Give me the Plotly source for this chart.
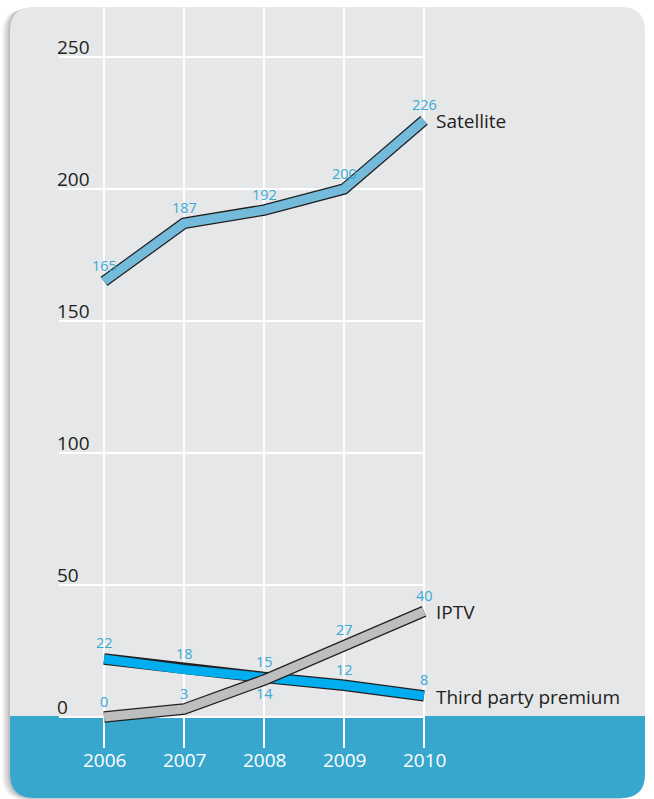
import plotly.graph_objects as go

years = [2006, 2007, 2008, 2009, 2010]
satellite = [165, 187, 192, 200, 226]
iptv = [0, 3, 14, 27, 40]
third_party = [22, 18, 15, 12, 8]
y_ticks = [0, 50, 100, 150, 200, 250]
series_names = ["Satellite", "IPTV", "Third party premium"]

W, H = 654, 799
# pixel mapping used to set axis ranges (layout only)
PX_PER_YEAR = 80.0
X0_PX = 104.0
PX_PER_UNIT = 2.64
Y0_PX = 717.0

x_range = [years[0] - X0_PX / PX_PER_YEAR, years[0] + (W - X0_PX) / PX_PER_YEAR]
y_range = [-(H - Y0_PX) / PX_PER_UNIT, Y0_PX / PX_PER_UNIT]

def px_to_x(px):
    return years[0] + (px - X0_PX) / PX_PER_YEAR

def py_to_y(py):
    return (Y0_PX - py) / PX_PER_UNIT

def rounded_path(x0, y0, x1, y1, rt, rb):
    def P(x, y):
        return f"{x / W:.5f},{1 - y / H:.5f}"
    d = f"M {P(x0 + rt, y0)} L {P(x1 - rt, y0)} "
    if rt:
        d += f"Q {P(x1, y0)} {P(x1, y0 + rt)} "
    d += f"L {P(x1, y1 - rb)} "
    if rb:
        d += f"Q {P(x1, y1)} {P(x1 - rb, y1)} "
    d += f"L {P(x0 + rb, y1)} "
    if rb:
        d += f"Q {P(x0, y1)} {P(x0, y1 - rb)} "
    d += f"L {P(x0, y0 + rt)} "
    if rt:
        d += f"Q {P(x0, y0)} {P(x0 + rt, y0)} "
    d += "Z"
    return d

PANEL_GREY = "#e6e7e8"
BAND_BLUE = "#37a7cd"
LABEL_BLUE = "#3aaad6"
OUTLINE = "#231f20"
TEXT_DARK = "#231f20"
FONT = "Open Sans"

shapes = []
# shadow layers
for i, a in enumerate([0.05, 0.06, 0.07, 0.09]):
    off = 8 - i * 2
    shapes.append(dict(type="path", xref="paper", yref="paper",
                       path=rounded_path(10 - off, 7 + off * 0.3, 645 - off, 798 + off * 0.2, 24, 24),
                       fillcolor=f"rgba(0,0,0,{a})", line=dict(width=0), layer="below"))
# panel
shapes.append(dict(type="path", xref="paper", yref="paper",
                   path=rounded_path(10, 7, 645, 798, 24, 24),
                   fillcolor=PANEL_GREY, line=dict(width=0), layer="below"))
# bottom band
shapes.append(dict(type="path", xref="paper", yref="paper",
                   path=rounded_path(10, 716, 645, 798, 0, 24),
                   fillcolor=BAND_BLUE, line=dict(width=0), layer="below"))
# vertical gridlines
for yr in years:
    shapes.append(dict(type="line", xref="x", yref="y", x0=yr, x1=yr,
                       y0=py_to_y(748), y1=py_to_y(7),
                       line=dict(color="white", width=2), layer="below"))
# horizontal gridlines
for t in y_ticks:
    shapes.append(dict(type="line", xref="x", yref="y", x0=px_to_x(59), x1=years[-1],
                       y0=t, y1=t, line=dict(color="white", width=2), layer="below"))

fig = go.Figure()

series = [
    (satellite, "#74bbdb"),
    (third_party, "#00aeef"),
    (iptv, "#bdbec0"),
]
for vals, col in series:
    fig.add_trace(go.Scatter(x=years, y=vals, mode="lines",
                             line=dict(color=OUTLINE, width=11.5), hoverinfo="skip",
                             showlegend=False))
    fig.add_trace(go.Scatter(x=years, y=vals, mode="lines",
                             line=dict(color=col, width=9), showlegend=False))

annotations = []
# y tick labels
for t in y_ticks:
    annotations.append(dict(x=px_to_x(55), y=t, xref="x", yref="y", text=str(t),
                            showarrow=False, xanchor="left", yanchor="bottom",
                            yshift=-5, font=dict(family=FONT, size=19, color=TEXT_DARK)))
# year labels
for yr in years:
    annotations.append(dict(x=yr, y=py_to_y(760), xref="x", yref="y", text=str(yr),
                            showarrow=False, xanchor="center", yanchor="middle",
                            font=dict(family=FONT, size=19, color="white")))
# value labels
below = {("IPTV", 2008)}
for name, vals in zip(series_names, [satellite, iptv, third_party]):
    for yr, v in zip(years, vals):
        shift = -13 if (name, yr) in below else 16
        annotations.append(dict(x=yr, y=v, xref="x", yref="y", text=str(v),
                                showarrow=False, xanchor="center", yanchor="middle",
                                yshift=shift,
                                font=dict(family=FONT, size=14.5, color=LABEL_BLUE)))
    annotations.append(dict(x=years[-1], y=vals[-1], xref="x", yref="y", text=name,
                            showarrow=False, xanchor="left", yanchor="middle",
                            xshift=10, yshift=-1,
                            font=dict(family=FONT, size=19, color=TEXT_DARK)))

fig.update_layout(
    width=W, height=H, autosize=False,
    margin=dict(l=0, r=0, t=0, b=0, pad=0),
    paper_bgcolor="white", plot_bgcolor="rgba(0,0,0,0)",
    xaxis=dict(range=x_range, visible=False, fixedrange=True),
    yaxis=dict(range=y_range, visible=False, fixedrange=True),
    shapes=shapes, annotations=annotations, showlegend=False,
)

fig.write_html("out.html", config={"displayModeBar": False},
               post_script="document.body.style.margin='0';")
